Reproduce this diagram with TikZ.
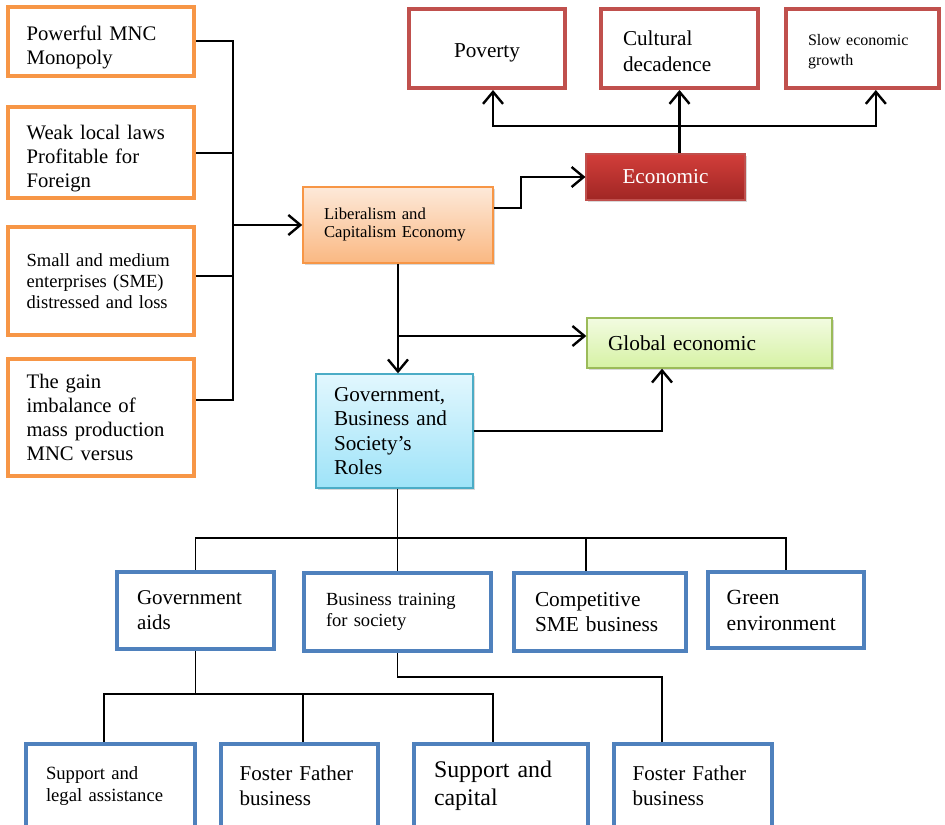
\documentclass[tikz,border=0pt]{standalone}
\usepackage{fontspec}
\setmainfont{Liberation Serif}
\usetikzlibrary{arrows.meta,positioning,shadows}
\definecolor{causeorange}{RGB}{247,150,70}
\definecolor{effectred}{RGB}{192,80,77}
\definecolor{roleblue}{RGB}{79,129,189}
\definecolor{libtop}{RGB}{253,233,217}
\definecolor{libbot}{RGB}{250,184,130}
\definecolor{econtop}{RGB}{210,62,58}
\definecolor{econbot}{RGB}{160,38,36}
\definecolor{globtop}{RGB}{242,251,225}
\definecolor{globbot}{RGB}{214,242,164}
\definecolor{globline}{RGB}{155,187,89}
\definecolor{govtop}{RGB}{226,247,254}
\definecolor{govbot}{RGB}{158,227,248}
\definecolor{govline}{RGB}{75,172,198}
\newcommand{\setfs}[2]{\fontsize{#1}{#2}\selectfont}
\newcommand{\lift}[1]{\rule{0pt}{#1}}
\begin{document}
\begin{tikzpicture}[x=0.75pt, y=-0.75pt,
   cause/.style={draw=causeorange, line width=3pt, align=left, inner xsep=14pt,
      inner ysep=0pt, text width=111.5pt, minimum height=#1},
   effect/.style={draw=effectred, line width=3pt, align=left, inner xsep=16.5pt,
      inner ysep=0pt, minimum height=59.25pt},
   role/.style={draw=roleblue, line width=3pt, align=left, inner ysep=0pt},
   soft/.style={drop shadow={shadow xshift=1.2pt, shadow yshift=-1.8pt,
      opacity=0.3}},
   arrow/.style={-{Straight Barb[length=9pt, width=15pt]}, line width=1.8pt},
   link/.style={line width=1.5pt},
   twig/.style={line width=1.2pt}
]
\path[use as bounding box, fill=white] (0,0) rectangle (945,824);

\node[cause=51.75pt, font=\setfs{15.5}{18}] (mnc) at (101,41.5)
   {\lift{20pt}Powerful MNC\\Monopoly};
\node[cause=68.25pt, font=\setfs{15.5}{18}] (laws) at (101,152.5)
   {\lift{20pt}Weak local laws\\Profitable for\\Foreign};
\node[cause=81pt, font=\setfs{13.9}{16}] (sme) at (101,281)
   {Small and medium\\enterprises (SME)\\distressed and loss};
\node[cause=87.75pt, font=\setfs{15.5}{18.2}] (gain) at (101,417.5)
   {The gain\\imbalance of\\mass production\\MNC versus};

\node[effect, align=center, minimum width=117pt, font=\setfs{15.9}{18}]
   (poverty) at (487,48.5) {\lift{17pt}Poverty};
\node[effect, text width=84.75pt, font=\setfs{15.9}{19.5}] (culture)
   at (679.5,48.5) {\lift{15pt}Cultural\\decadence};
\node[effect, text width=81.75pt, font=\setfs{12}{15}] (slow)
   at (862.5,48.5) {\lift{13pt}Slow economic\\growth};

\node[draw=effectred, line width=0.8pt, top color=econtop, bottom color=econbot,
   text=white, minimum width=119.25pt, minimum height=34.5pt,
   font=\setfs{15.9}{18}, soft] (econ) at (665.5,177) {Economic};
\node[draw=causeorange, line width=1.2pt, top color=libtop, bottom color=libbot,
   align=left, text width=111pt, inner xsep=15.75pt, minimum height=57pt,
   font=\setfs{12.5}{13.5}, soft] (liberal) at (398,225)
   {Liberalism and\\Capitalism Economy};
\node[draw=globline, line width=1pt, top color=globtop, bottom color=globbot,
   align=left, text width=152.25pt, inner xsep=15.75pt, minimum height=37.5pt,
   font=\setfs{16}{18}, soft] (global) at (709.5,343) {Global economic};
\node[draw=govline, line width=1pt, top color=govtop, bottom color=govbot,
   align=left, text width=90.75pt, inner xsep=13.5pt, minimum height=85.5pt,
   font=\setfs{15.9}{18.4}, soft] (gov) at (394.5,431)
   {Government,\\Business and\\Society's\\Roles};

\node[role, text width=87.75pt, inner xsep=15pt, minimum height=57.75pt,
   font=\setfs{15.75}{18.75}] (aids) at (195.5,610.5) {Government\\aids};
\node[role, text width=107.25pt, inner xsep=16.5pt, minimum height=58.5pt,
   font=\setfs{13.9}{15.75}] (train) at (397.5,612)
   {Business training\\for society};
\node[role, text width=97.5pt, inner xsep=15.75pt, minimum height=58.5pt,
   font=\setfs{16}{18.75}] (compete) at (600,612) {Competitive\\SME business};
\node[role, text width=89pt, inner xsep=14pt, minimum height=57pt,
   font=\setfs{16.2}{19.5}] (green) at (786,610) {Green\\environment};

\node[role, text width=96.75pt, inner xsep=15pt, minimum height=63pt,
   font=\setfs{14}{16.5}] (legal) at (110.5,786) {Support and\\legal assistance};
\node[role, text width=89.75pt, inner xsep=14pt, minimum height=63pt,
   font=\setfs{15.8}{18.75}] (fosterA) at (299.5,786) {Foster Father\\business};
\node[role, text width=100.5pt, inner xsep=15pt, minimum height=63pt,
   font=\setfs{17.9}{21}] (capital) at (501,785.5) {Support and\\capital};
\node[role, text width=90.5pt, inner xsep=14pt, minimum height=63pt,
   font=\setfs{15.8}{18.75}] (fosterB) at (693,785.5) {Foster Father\\business};

\coordinate (bus) at (233,225);
\coordinate (split) at (679.5,126);
\coordinate (branch) at (398,336);
\coordinate (rowbus) at (397.5,538);
\coordinate (aidbus) at (195.5,694);

\draw[link] (mnc.east) -| (bus);
\draw[link] (laws.east) -| (bus);
\draw[link] ([yshift=3.75pt]sme.east) -| (bus);
\draw[link] ([yshift=13.5pt]gain.east) -| (bus);
\draw[arrow] (bus) -- (liberal.west);
\draw[arrow] ([yshift=12.75pt]liberal.east) -- ++(27,0) |- (econ.west);
\draw[arrow] (econ.north -| culture.south) -- (culture.south);
\draw[arrow] (split) -| ([xshift=4.5pt]poverty.south);
\draw[arrow] (split) -| ([xshift=10pt]slow.south);
\draw[arrow] (liberal.south) -- (liberal.south |- gov.north);
\draw[arrow] (branch) -- (branch -| global.west);
\draw[arrow] (gov.east) -| ([xshift=-35.6pt]global.south);

\draw[twig] (rowbus |- gov.south) -- (rowbus);
\draw[twig] (rowbus) -| (aids.north);
\draw[twig] (rowbus) -- (train.north);
\draw[twig] (rowbus) -| ([xshift=-10.5pt]compete.north);
\draw[twig] (rowbus) -| (green.north);
\draw[twig] (aids.south) -- (aidbus);
\draw[twig] (aidbus) -| ([xshift=-4.9pt]legal.north);
\draw[twig] (aidbus) -| ([xshift=2.6pt]fosterA.north);
\draw[twig] (aidbus) -| ([xshift=-6pt]capital.north);
\draw[twig] (train.south) -- ++(0,24) -| ([xshift=-23.25pt]fosterB.north);
\end{tikzpicture}
\end{document}
